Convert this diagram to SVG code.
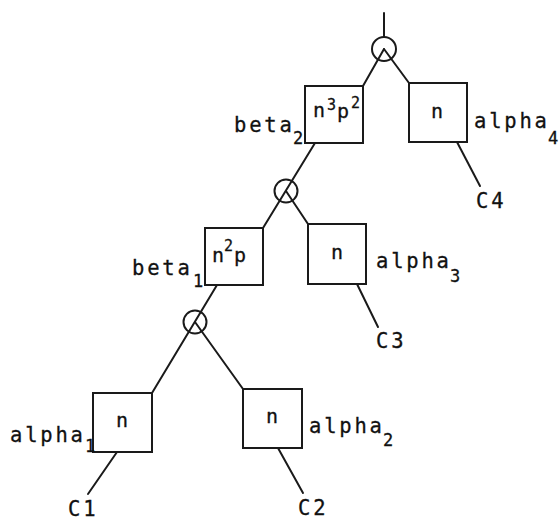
<svg xmlns="http://www.w3.org/2000/svg" width="559" height="520" viewBox="0 0 559 520">
  <style>
    .edge { stroke: #1a1a1a; stroke-width: 2; fill: none; stroke-linecap: round; }
    .box { stroke: #1a1a1a; stroke-width: 2; fill: #ffffff; }
    .join { stroke: #1a1a1a; stroke-width: 2; fill: none; }
    .lbl { font-family: "DejaVu Sans Mono", "Liberation Mono", monospace; font-size: 20.5px; letter-spacing: 2.8px; fill: #111111; stroke: #111111; stroke-width: 0.3px; }
    .in { font-family: "DejaVu Sans Mono", "Liberation Mono", monospace; font-size: 20px; fill: #111111; stroke: #111111; stroke-width: 0.3px; }
    .sub { font-family: "DejaVu Sans Mono", "Liberation Mono", monospace; font-size: 17px; fill: #111111; stroke: #111111; stroke-width: 0.3px; }
    .sup { font-family: "DejaVu Sans Mono", "Liberation Mono", monospace; font-size: 15px; fill: #111111; stroke: #111111; stroke-width: 0.3px; }
  </style>
  <rect width="559" height="520" fill="#ffffff"/>

  <!-- connectors: tree edges and leaf stems -->
  <g id="connectors">
    <line class="edge" x1="384" y1="13" x2="384" y2="37"/>
    <line class="edge" x1="384" y1="49" x2="363" y2="86"/>
    <line class="edge" x1="384" y1="49" x2="409" y2="83"/>
    <line class="edge" x1="315" y1="143" x2="263" y2="228"/>
    <line class="edge" x1="286" y1="191" x2="308" y2="224"/>
    <line class="edge" x1="217" y1="285" x2="152" y2="393"/>
    <line class="edge" x1="195" y1="322" x2="243" y2="389"/>
    <line class="edge" x1="457" y1="142" x2="480" y2="186"/>
    <line class="edge" x1="357" y1="284" x2="378" y2="327"/>
    <line class="edge" x1="117" y1="452" x2="88" y2="494"/>
    <line class="edge" x1="278" y1="448" x2="303" y2="493"/>
  </g>

  <!-- junction circles -->
  <g id="join3"><circle class="join" cx="384" cy="49" r="12"/></g>
  <g id="join2"><circle class="join" cx="286" cy="191" r="11.5"/></g>
  <g id="join1"><circle class="join" cx="195" cy="322" r="11.5"/></g>

  <!-- internal nodes -->
  <g id="beta2">
    <rect class="box" x="305" y="86" width="58" height="57"/>
    <text class="in" x="313" y="117">n</text>
    <text class="sup" x="327" y="110">3</text>
    <text class="in" x="337" y="118">p</text>
    <text class="sup" x="351" y="108">2</text>
    <text class="lbl" x="234" y="132">beta</text>
    <text class="sub" x="293" y="144">2</text>
  </g>
  <g id="beta1">
    <rect class="box" x="205" y="228" width="58" height="57"/>
    <text class="in" x="212" y="262">n</text>
    <text class="sup" x="224" y="251">2</text>
    <text class="in" x="234" y="262">p</text>
    <text class="lbl" x="132" y="275">beta</text>
    <text class="sub" x="193" y="287">1</text>
  </g>

  <!-- leaf nodes -->
  <g id="alpha4">
    <rect class="box" x="409" y="83" width="58" height="59"/>
    <text class="in" x="437" y="118" text-anchor="middle">n</text>
    <text class="lbl" x="474" y="128">alpha</text>
    <text class="sub" x="548" y="144">4</text>
    <text class="lbl" x="476" y="208">C4</text>
  </g>
  <g id="alpha3">
    <rect class="box" x="308" y="224" width="58" height="60"/>
    <text class="in" x="337" y="259" text-anchor="middle">n</text>
    <text class="lbl" x="376" y="268">alpha</text>
    <text class="sub" x="450" y="282">3</text>
    <text class="lbl" x="376" y="348">C3</text>
  </g>
  <g id="alpha1">
    <rect class="box" x="93" y="393" width="59" height="59"/>
    <text class="in" x="122" y="427" text-anchor="middle">n</text>
    <text class="lbl" x="10" y="442">alpha</text>
    <text class="sub" x="85" y="452">1</text>
    <text class="lbl" x="68" y="516">C1</text>
  </g>
  <g id="alpha2">
    <rect class="box" x="243" y="389" width="59" height="59"/>
    <text class="in" x="272" y="423" text-anchor="middle">n</text>
    <text class="lbl" x="309" y="433">alpha</text>
    <text class="sub" x="383" y="446">2</text>
    <text class="lbl" x="298" y="515">C2</text>
  </g>
</svg>
